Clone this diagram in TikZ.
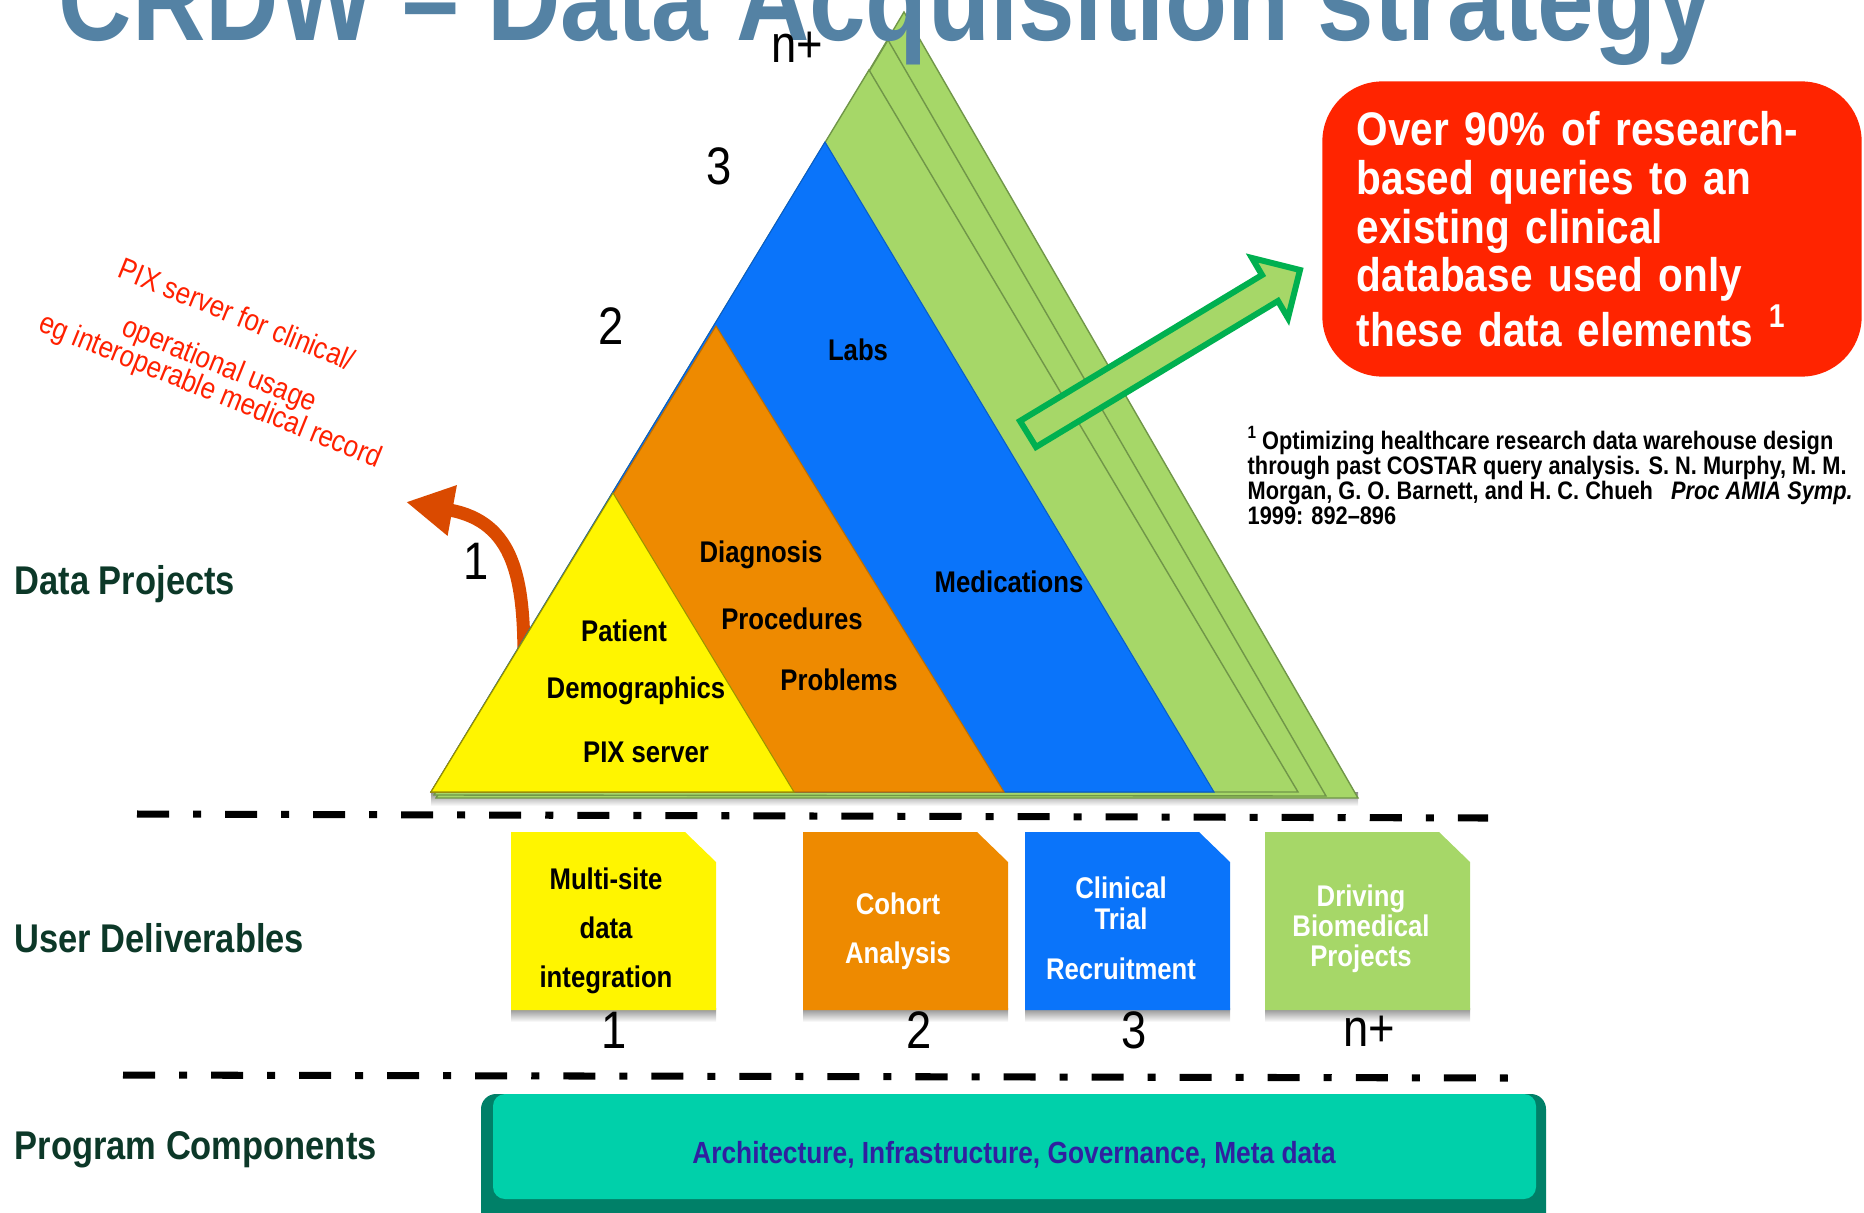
\documentclass[tikz,border=0pt]{standalone}
\usepackage{fontspec}
\setmainfont{Liberation Sans}[FakeStretch=0.86]
\usetikzlibrary{arrows.meta, positioning}

\definecolor{TitleBlue}{RGB}{84,130,164}
\definecolor{DarkGreen}{RGB}{12,56,40}
\definecolor{PYellow}{RGB}{255,245,0}
\definecolor{POrange}{RGB}{238,138,0}
\definecolor{PBlue}{RGB}{10,116,250}
\definecolor{PGreen}{RGB}{166,215,104}
\definecolor{GreenEdge}{RGB}{112,150,72}
\definecolor{BoxRed}{RGB}{255,36,0}
\definecolor{NoteRed}{RGB}{255,32,0}
\definecolor{ArrowRed}{RGB}{218,74,0}
\definecolor{ArrowGreen}{RGB}{0,176,80}
\definecolor{BarTeal}{RGB}{0,208,170}
\definecolor{BarDark}{RGB}{0,128,104}
\definecolor{BarText}{RGB}{48,32,160}

\begin{document}
\begin{tikzpicture}[x=0.01cm, y=-0.01cm]
	\tikzstyle{Label} = [font=\fontsize{8.5}{14}\selectfont\bfseries, inner sep=0pt, align=center]
	\tikzstyle{Num} = [font=\fontsize{15}{15}\selectfont, inner sep=0pt]
	\tikzstyle{Side} = [font=\fontsize{11.4}{13}\selectfont\bfseries, text=DarkGreen, anchor=base west, inner sep=0pt]
	\tikzstyle{Note} = [font=\fontsize{8.6}{9}\selectfont, text=NoteRed, rotate=-22, inner sep=0pt]
	\tikzstyle{Sep} = [line width=2pt, dash pattern=on 0.32cm off 0.24cm on 0.08cm off 0.24cm]
	\tikzstyle{Shadow} = [top color=black!45, bottom color=white, draw=none]
	\tikzstyle{arrow} = [ArrowRed, line width=0.13cm, -{Triangle[length=0.47cm, width=0.48cm]}]

	\useasboundingbox (0,0) rectangle (1864,1212);
	\clip (0,0) rectangle (1864,1212);

	% usage arrow, behind the pyramid
	\coordinate (a0) at (524,660);
	\coordinate (a1) at (406,502);
	\draw[arrow] (a0) .. controls (524,580) and (515,522) .. (a1);

	% pyramid
	\coordinate (bl) at (431,792);
	\fill[Shadow] (431,792) rectangle (1358,806);
	\filldraw[fill=PGreen, draw=GreenEdge, line width=0.4pt] (436,798) -- (904,12) -- (1358,798) -- cycle;
	\filldraw[fill=PGreen, draw=GreenEdge, line width=0.4pt] (434,795) -- (888,40) -- (1326,796) -- cycle;
	\filldraw[fill=PGreen, draw=GreenEdge, line width=0.4pt] (bl) -- (869,70) -- (1298,792) -- cycle;
	\filldraw[fill=PBlue, draw=PBlue!80!black, line width=0.3pt] (bl) -- (825,142) -- (1214,792) -- cycle;
	\filldraw[fill=POrange, draw=POrange!80!black, line width=0.3pt] (bl) -- (716,326) -- (1004,792) -- cycle;
	\filldraw[fill=PYellow, draw=PYellow!60!black, line width=0.3pt] (bl) -- (613,493) -- (794,792) -- cycle;

	\node (title) [anchor=base west, inner sep=0pt, text=TitleBlue, font=\fontsize{33.6}{36}\selectfont\bfseries] at (58,40) {CRDW – Data Acquisition strategy};

	\node (labs) [Label] at (858,350) {Labs};
	\node (med) [Label] at (1009,582) {Medications};
	\node (diag) [Label] at (761,555) {Diagnosis};
	\node (proc) [Label] at (792,619) {Procedures};
	\node (prob) [Label] at (839,680) {Problems};
	\node (pat) [Label] at (624,631) {Patient};
	\node (demo) [Label] at (636,691) {Demographics};
	\node (pix) [Label] at (646,752) {PIX server};

	\node (n1) [Num] at (476,561) {1};
	\node (n2) [Num] at (611,326) {2};
	\node (n3) [Num] at (719,166) {3};
	\node (nn) [Num] at (797,47) {n+};

	% block arrow to the fact box
	\filldraw[fill=PGreen, draw=ArrowGreen, line width=0.06cm] (1036,447) -- (1278,301) -- (1288,318) -- (1300,270) -- (1252,258) -- (1262,275) -- (1020,421) -- cycle;

	\node (fact) [fill=BoxRed, rounded corners=0.6cm, text width=4.7cm, inner xsep=0.345cm, minimum height=2.95cm, align=left, text=white, font=\fontsize{13.4}{13.9}\selectfont\bfseries] at (1592,229) {Over 90\% of research-\\based queries to an\\existing clinical\\database used only\\these data elements \textsuperscript{1}};

	\node (ref) [anchor=north west, inner sep=0pt, align=left, font=\fontsize{7.2}{7.1}\selectfont\bfseries] at (1247,426) {\textsuperscript{1}\,Optimizing healthcare research data warehouse design\\through past COSTAR query analysis. S. N. Murphy, M. M.\\Morgan, G. O. Barnett, and H. C. Chueh\ \ \ \textit{Proc AMIA Symp.}\\1999: 892–896};

	\node (pixnote) [Note] at (237,314) {PIX server for clinical/};
	\node (opnote) [Note] at (219,366) {operational usage};
	\node (egnote) [Note] at (210,392) {eg interoperable medical record};

	% separators
	\coordinate (s1a) at (137,814);
	\coordinate (s1b) at (1488,818);
	\coordinate (s2a) at (123,1075);
	\coordinate (s2b) at (1508,1078);
	\draw[Sep] (s1a) -- (s1b);
	\draw[Sep] (s2a) -- (s2b);

	% deliverables
	\foreach \x/\c in {511/PYellow, 803/POrange, 1025/PBlue, 1265/PGreen} {
		\fill[Shadow] (\x,1008) rectangle ++(205,14);
		\fill[\c] (\x,832) -- ++(174,0) -- ++(31,30) -- ++(0,148) -- ++(-205,0) -- cycle;
	}
	\node (t1) [Label] at (606,931) {Multi-site\\data\\integration};
	\node (t2) [Label, text=white] at (898,931) {Cohort\\Analysis};
	\node (t3) [Label, text=white] at (1121,928) {Clinical\\[-5pt]Trial\\Recruitment};
	\node (t4) [Label, text=white, font=\fontsize{8.5}{8.6}\selectfont\bfseries] at (1361,929) {Driving\\Biomedical\\Projects};

	\node (b1) [Num] at (614,1030) {1};
	\node (b2) [Num] at (919,1030) {2};
	\node (b3) [Num] at (1134,1030) {3};
	\node (b4) [Num] at (1369,1031) {n+};

	% program components bar
	\fill[BarDark, rounded corners=0.15cm] (481,1094) rectangle (1546,1230);
	\fill[BarTeal, rounded corners=0.12cm] (493,1094) rectangle (1536,1199);
	\node (comp) [text=BarText, font=\fontsize{8.7}{10}\selectfont\bfseries] at (1014,1155) {Architecture, Infrastructure, Governance, Meta data};

	\node (dp) [Side] at (14,594) {Data Projects};
	\node (ud) [Side] at (14,952) {User Deliverables};
	\node (pc) [Side] at (14,1159) {Program Components};
\end{tikzpicture}
\end{document}
